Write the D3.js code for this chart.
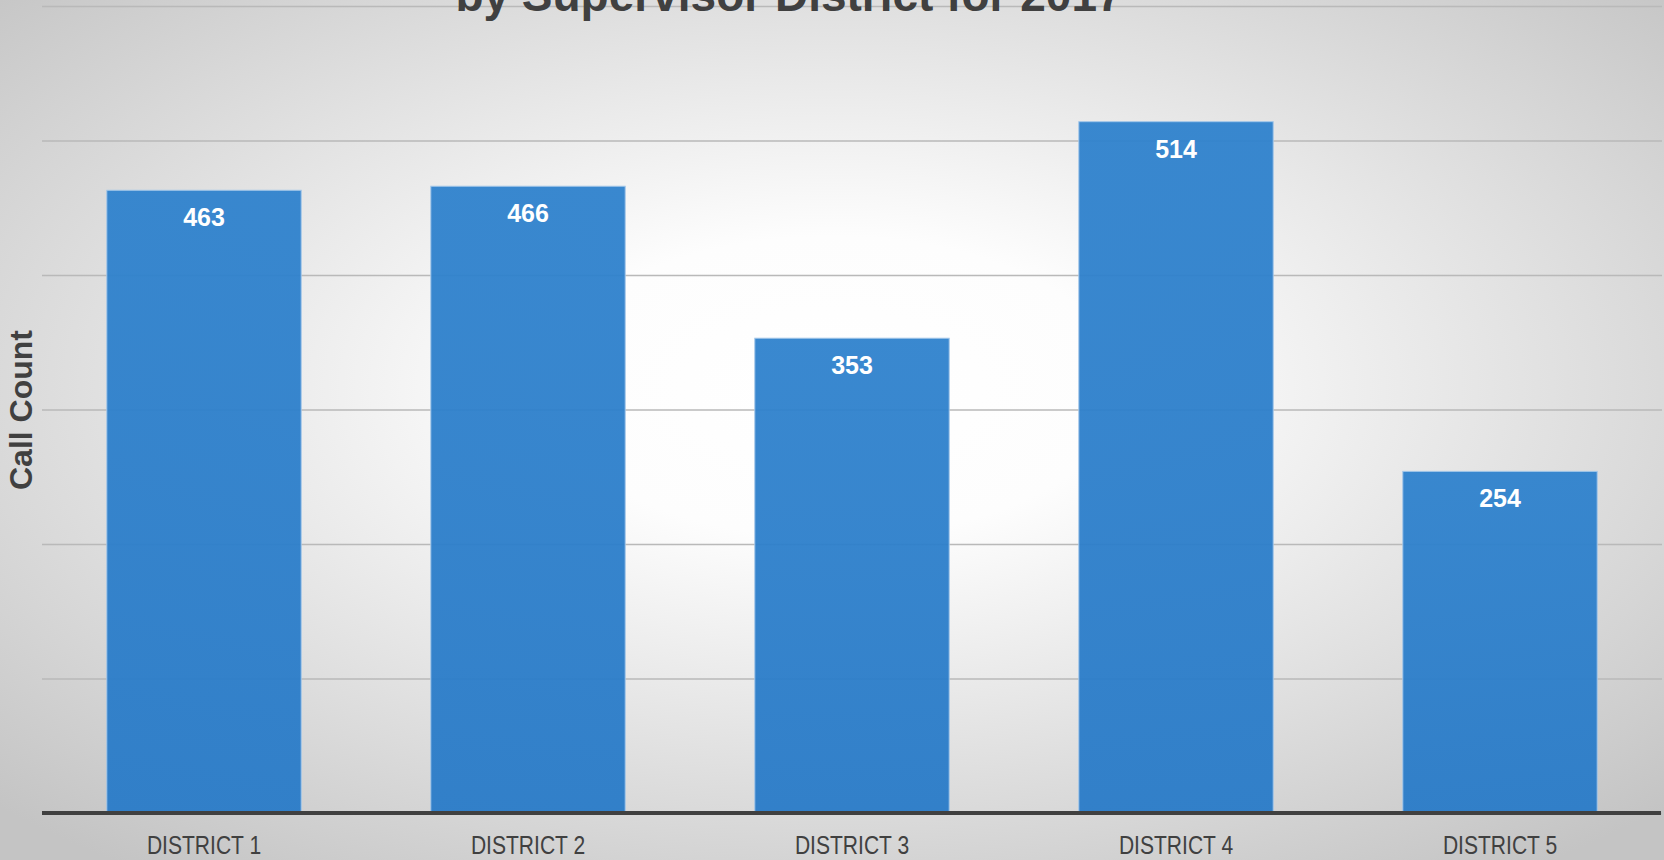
<!DOCTYPE html>
<html>
<head>
<meta charset="utf-8">
<script src="https://cdn.jsdelivr.net/npm/d3@7"></script>
<style>
  html, body { margin: 0; padding: 0; overflow: hidden; }
  svg { display: block; }
</style>
</head>
<body>
<div id="root"></div>
<script>
// chart data
const districts = ['DISTRICT 1', 'DISTRICT 2', 'DISTRICT 3', 'DISTRICT 4', 'DISTRICT 5'];
const callCounts = [463, 466, 353, 514, 254];
const yTicks = [0, 100, 200, 300, 400, 500, 600];
const titleText = 'by Supervisor District for 2017';
const yAxisTitle = 'Call Count';

const W = 1664, H = 860;
const plot = { left: 42, right: 1662, top: 6, bottom: 813 };

const svg = d3.select('#root').append('svg')
  .attr('width', W)
  .attr('height', H);

// background: soft radial gradient, white in the middle
const defs = svg.append('defs');
const bg = defs.append('radialGradient')
  .attr('id', 'bg')
  .attr('cx', '50%').attr('cy', '45%').attr('r', '70%');
bg.append('stop').attr('offset', '0').attr('stop-color', '#ffffff');
bg.append('stop').attr('offset', '0.25').attr('stop-color', '#fdfdfd');
bg.append('stop').attr('offset', '1').attr('stop-color', '#c4c4c4');

const barGrad = defs.append('linearGradient')
  .attr('id', 'bar')
  .attr('x1', 0).attr('y1', 0).attr('x2', 0).attr('y2', 1);
barGrad.append('stop').attr('offset', '0').attr('stop-color', '#2f82cd');
barGrad.append('stop').attr('offset', '1').attr('stop-color', '#297bc8');

svg.append('rect')
  .attr('width', W).attr('height', H)
  .attr('fill', 'url(#bg)');

const x = d3.scaleBand()
  .domain(districts)
  .range([plot.left, plot.right])
  .paddingInner(0.4)
  .paddingOuter(0.2);

const y = d3.scaleLinear()
  .domain([0, 600])
  .range([plot.bottom, plot.top]);

// gridlines
const grid = svg.append('g')
  .attr('transform', `translate(${plot.left},0)`)
  .call(d3.axisLeft(y).tickValues(yTicks).tickSize(-(plot.right - plot.left)).tickFormat(''));
grid.select('.domain').remove();
grid.selectAll('.tick line')
  .attr('stroke', '#b9b9b9')
  .attr('stroke-width', 1.5);

// bars
const data = districts.map((d, i) => ({ name: d, value: callCounts[i] }));

svg.append('g').selectAll('rect')
  .data(data)
  .join('rect')
  .attr('x', d => x(d.name))
  .attr('y', d => y(d.value))
  .attr('width', x.bandwidth())
  .attr('height', d => y(0) - y(d.value))
  .attr('fill', 'url(#bar)')
  .attr('fill-opacity', 0.95)
  .attr('stroke', '#a3c7e9')
  .attr('stroke-width', 1);

// value labels
svg.append('g').selectAll('text')
  .data(data)
  .join('text')
  .attr('x', d => x(d.name) + x.bandwidth() / 2)
  .attr('y', d => y(d.value) + 36)
  .attr('text-anchor', 'middle')
  .attr('font-family', '"Liberation Sans", Arial, sans-serif')
  .attr('font-weight', 'bold')
  .attr('font-size', 25)
  .attr('fill', '#ffffff')
  .text(d => d.value);

// x axis (labels squeezed a bit, the original font is narrow)
const xAxis = svg.append('g')
  .attr('transform', `translate(0,${plot.bottom})`)
  .call(d3.axisBottom(x).tickSize(0).tickPadding(23));
xAxis.select('.domain').remove();
xAxis.selectAll('text')
  .attr('font-family', '"Liberation Sans", Arial, sans-serif')
  .attr('font-size', 26)
  .attr('fill', '#404040')
  .attr('transform', 'scale(0.81,1)');

svg.append('line')
  .attr('x1', plot.left).attr('x2', plot.right - 1)
  .attr('y1', y(0)).attr('y2', y(0))
  .attr('stroke', '#404040')
  .attr('stroke-width', 4);

// y axis title
svg.append('text')
  .attr('transform', `translate(32,410) rotate(-90)`)
  .attr('text-anchor', 'middle')
  .attr('font-family', '"Liberation Sans", Arial, sans-serif')
  .attr('font-weight', 'bold')
  .attr('font-size', 32)
  .attr('fill', '#404040')
  .text(yAxisTitle);

// chart title (second line, first line is cut off above)
svg.append('text')
  .attr('x', 789)
  .attr('y', 11)
  .attr('text-anchor', 'middle')
  .attr('font-family', '"Liberation Sans", Arial, sans-serif')
  .attr('font-weight', 'bold')
  .attr('font-size', 46)
  .attr('fill', '#404040')
  .text(titleText);
</script>
</body>
</html>
